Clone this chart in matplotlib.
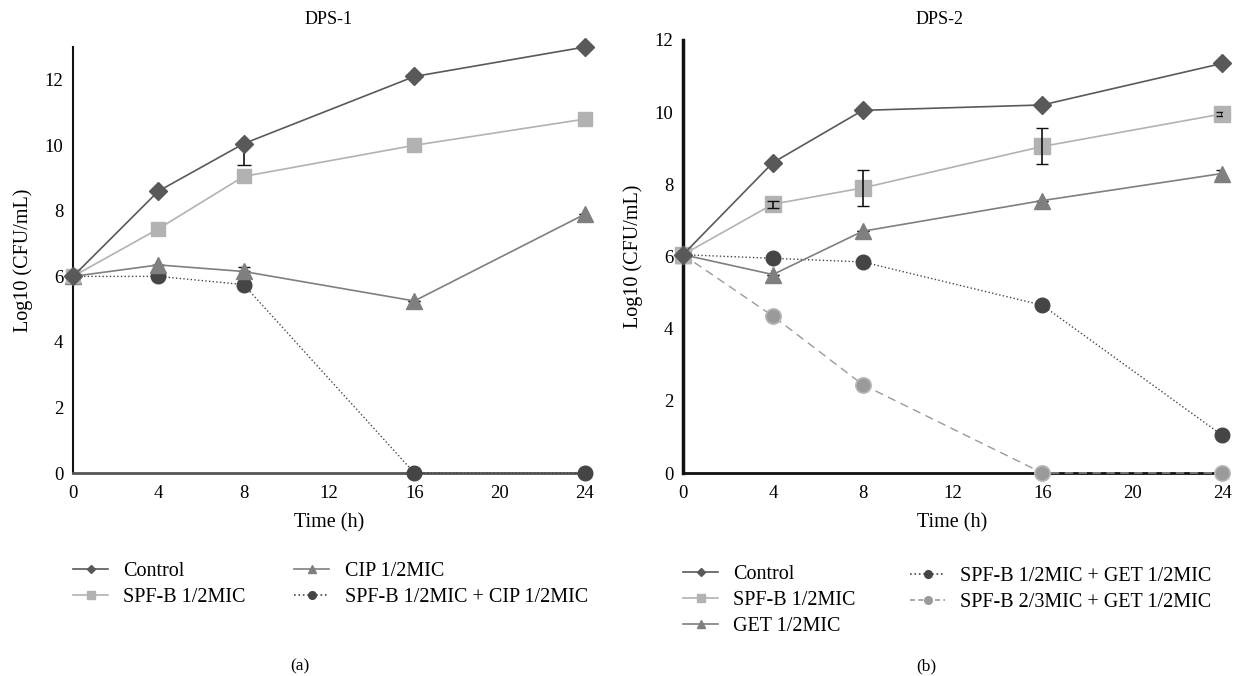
import matplotlib
matplotlib.use("Agg")
import matplotlib.pyplot as plt
from matplotlib.lines import Line2D

plt.rcParams['font.family'] = ['Liberation Serif', 'DejaVu Serif']

time = [0, 4, 8, 16, 24]
xticks = [0, 4, 8, 12, 16, 20, 24]

# DPS-1
d1_control = [6.0, 8.6, 10.05, 12.1, 13.0]
d1_control_err_low = [0, 0, 0.65, 0, 0]
d1_spfb = [6.0, 7.45, 9.05, 10.0, 10.8]
d1_cip = [6.0, 6.35, 6.15, 5.25, 7.9]
d1_cip_err = [0, 0, 0.15, 0, 0]
d1_combo = [6.0, 6.0, 5.75, 0.0, 0.0]

# DPS-2
d2_control = [6.05, 8.6, 10.05, 10.2, 11.35]
d2_spfb = [6.05, 7.45, 7.9, 9.05, 9.95]
d2_spfb_err = [0, 0.1, 0.5, 0.5, 0.05]
d2_get = [6.05, 5.5, 6.7, 7.55, 8.3]
d2_get_err = [0, 0, 0, 0, 0.1]
d2_combo1 = [6.05, 5.95, 5.85, 4.65, 1.05]
d2_combo2 = [6.05, 4.35, 2.45, 0.0, 0.0]

labels1 = ["Control", "SPF-B 1/2MIC", "CIP 1/2MIC", "SPF-B 1/2MIC + CIP 1/2MIC"]
labels2 = ["Control", "SPF-B 1/2MIC", "GET 1/2MIC",
           "SPF-B 1/2MIC + GET 1/2MIC", "SPF-B 2/3MIC + GET 1/2MIC"]

C_CTRL = "#595959"
C_SPFB = "#b2b2b2"
C_CIP = "#7f7f7f"
C_COMBO = "#454545"
C_COMBO2 = "#9a9a9a"

W, H = 1235, 676
fig = plt.figure(figsize=(W / 100, H / 100), dpi=100)


def fx(px):
    return px / W


def fy(py):
    return 1 - py / H


ax1 = fig.add_axes([fx(73), fy(473), fx(585 - 73), (473 - 47) / H])
ax2 = fig.add_axes([fx(683), fy(473), fx(1222 - 683), (473 - 40) / H])

MS = 10.5
FS_TICK = 13.5
FS_LAB = 14.5
FS_LEG = 14.5


def style(ax, ymax, bottom_color, left_lw):
    ax.set_xlim(0, 24)
    ax.set_ylim(0, ymax)
    ax.set_xticks(xticks)
    ax.set_yticks(range(0, 13, 2))
    ax.tick_params(axis="x", length=0, labelsize=FS_TICK, pad=9)
    ax.tick_params(axis="y", length=0, labelsize=FS_TICK, pad=7)
    for s in ["top", "right"]:
        ax.spines[s].set_visible(False)
    ax.spines["left"].set_color("#111111")
    ax.spines["left"].set_linewidth(left_lw)
    ax.spines["bottom"].set_color(bottom_color)
    ax.spines["bottom"].set_linewidth(2.0)
    ax.set_xlabel("Time (h)", fontsize=FS_LAB, labelpad=8)
    ax.set_ylabel("Log10 (CFU/mL)", fontsize=FS_LAB, labelpad=8)


# Left panel
ax1.plot(time, d1_combo, ls=":", color=C_COMBO, lw=1, marker="o", ms=MS, zorder=3, clip_on=False)
ax1.errorbar(time, d1_cip, yerr=[[0] * 5, d1_cip_err], fmt="none",
             ecolor="#111111", elinewidth=1, capsize=4, zorder=2)
ax1.plot(time, d1_cip, ls="-", color=C_CIP, lw=1.2, marker="^", ms=MS + 1.5, zorder=3, clip_on=False)
ax1.plot(time, d1_spfb, ls="-", color=C_SPFB, lw=1.2, marker="s", ms=MS, zorder=3, clip_on=False)
ax1.errorbar(time, d1_control, yerr=[d1_control_err_low, [0] * 5], fmt="none",
             ecolor="#111111", elinewidth=1.2, capsize=5, zorder=2)
ax1.plot(time, d1_control, ls="-", color=C_CTRL, lw=1.2, marker="D", ms=MS - 1.5, zorder=4, clip_on=False)
style(ax1, 13, "#555555", 1.5)

# Right panel
ax2.plot(time, d2_combo2, ls=(0, (6, 4)), color=C_COMBO2, lw=1, marker="o", ms=MS + 0.5,
         mfc=C_COMBO2, mec="#b8b8b8", mew=1.2, zorder=3, clip_on=False)
ax2.plot(time, d2_combo1, ls=":", color=C_COMBO, lw=1, marker="o", ms=MS, zorder=3, clip_on=False)
ax2.errorbar(time, d2_get, yerr=d2_get_err, fmt="none", ecolor="#111111", elinewidth=1, capsize=4, zorder=2)
ax2.plot(time, d2_get, ls="-", color=C_CIP, lw=1.2, marker="^", ms=MS + 1.5, zorder=3, clip_on=False)
ax2.plot(time, d2_spfb, ls="-", color=C_SPFB, lw=1.2, marker="s", ms=MS + 0.5, zorder=3, clip_on=False)
ax2.errorbar(time, d2_spfb, yerr=d2_spfb_err, fmt="none", ecolor="#111111", elinewidth=1.2, capsize=4, zorder=4)
ax2.plot(time, d2_control, ls="-", color=C_CTRL, lw=1.2, marker="D", ms=MS - 1.5, zorder=4, clip_on=False)
style(ax2, 12, "#111111", 2.5)

fig.text(fx(329), fy(20), "DPS-1", ha="center", va="center", fontsize=13)
fig.text(fx(940), fy(20), "DPS-2", ha="center", va="center", fontsize=13)


def h(color, ls, marker, ms=5.5):
    return Line2D([0], [0], color=color, ls=ls, lw=1.2, marker=marker, ms=ms)


leg_kw = dict(frameon=False, fontsize=FS_LEG, handlelength=1.75, handletextpad=0.75,
              borderaxespad=0, borderpad=0, loc="upper left", labelspacing=0.35)

handles1 = [h(C_CTRL, "-", "D", 4.5), h(C_SPFB, "-", "s"), h(C_CIP, "-", "^"), h(C_COMBO, ":", "o")]
fig.legend(handles1, labels1, ncol=2, bbox_to_anchor=(fx(73), fy(562)),
           columnspacing=2.4, **leg_kw)

handles2a = [h(C_CTRL, "-", "D", 4.5), h(C_SPFB, "-", "s"), h(C_CIP, "-", "^")]
fig.legend(handles2a, labels2[:3], bbox_to_anchor=(fx(683), fy(565)), **leg_kw)
handles2b = [h(C_COMBO, ":", "o"), h(C_COMBO2, (0, (3, 2)), "o")]
fig.legend(handles2b, labels2[3:], bbox_to_anchor=(fx(910), fy(567)), **leg_kw)

fig.text(fx(300), fy(666), "(a)", ha="center", va="center", fontsize=12.5)
fig.text(fx(926), fy(666), "(b)", ha="center", va="center", fontsize=12.5)

fig.savefig("out.png", dpi=100)
